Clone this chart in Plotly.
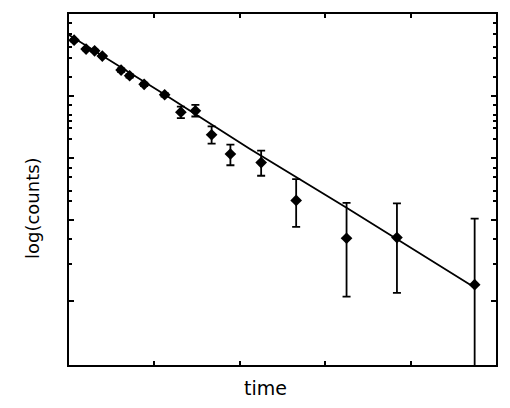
import plotly.graph_objects as go

# Decay measurement: counts vs time (arbitrary units), log y axis
time = [0.06, 0.20, 0.30, 0.39, 0.61, 0.71, 0.88, 1.12, 1.31, 1.48,
        1.67, 1.89, 2.25, 2.66, 3.25, 3.84, 4.75]
counts = [78400, 56300, 52900, 43500, 25900, 21000, 15300, 10400, 5450, 5730,
          2365, 1159, 844, 208, 51.3, 52.5, 9.2]
err_plus = [3100, 2300, 2100, 1700, 1600, 1300, 950, 650, 1265, 1420,
            849, 479, 469, 248, 139, 134, 96.5]
err_minus = [3100, 2300, 2100, 1700, 1600, 1300, 950, 650, 1085, 1085,
             667, 395, 326, 130, 45.4, 45.7, 9.1]

# Fitted decay curve
fit_time = [0.0, 1.12, 2.11, 3.25, 4.75]
fit_counts = [95300, 10500, 1420, 158, 8.3]

# Tick marks (no labels on the axes)
y_major = [5, 100, 1000, 10000]
y_minor = [20, 50, 200, 300, 500, 700, 2000, 3000, 4000, 5000, 7000,
           20000, 40000, 60000, 100000, 150000]
x_ticks = [1, 2, 3, 4]

fig = go.Figure()

fig.add_trace(go.Scatter(
    x=fit_time, y=fit_counts, mode="lines",
    line=dict(color="black", width=1.8),
    showlegend=False
))

fig.add_trace(go.Scatter(
    x=time, y=counts, mode="markers",
    marker=dict(symbol="diamond", size=9, color="black"),
    error_y=dict(type="data", symmetric=False, array=err_plus, arrayminus=err_minus,
                 color="black", thickness=1.8, width=4),
    showlegend=False
))

fig.update_xaxes(
    range=[0, 5], showgrid=False, zeroline=False,
    showline=True, linecolor="black", linewidth=2, mirror="ticks",
    tickmode="array", tickvals=x_ticks, ticks="inside", ticklen=4, tickwidth=1.5,
    tickcolor="black", showticklabels=False
)
fig.update_yaxes(
    type="log", range=[-0.328, 5.315], showgrid=False, zeroline=False,
    showline=True, linecolor="black", linewidth=2, mirror="ticks",
    tickmode="array", tickvals=y_major, ticks="inside", ticklen=5, tickwidth=1.5,
    tickcolor="black", showticklabels=False,
    minor=dict(tickmode="array", tickvals=y_minor, ticks="inside", ticklen=3,
               tickwidth=1.5, tickcolor="black", showgrid=False)
)

# axis titles placed by hand (they sit off-centre in the original)
fig.add_annotation(text="time", xref="paper", yref="paper", x=0.46, y=-0.065,
                   xanchor="center", yanchor="middle",
                   showarrow=False, font=dict(size=19, color="black"))
fig.add_annotation(text="log(counts)", xref="paper", yref="paper", x=-0.086, y=0.448,
                   xanchor="center", yanchor="middle",
                   showarrow=False, textangle=-90, font=dict(size=18, color="black"))

# page has an 8px body margin, so the figure is kept a bit smaller than the window
fig.update_layout(
    width=494, height=392,
    margin=dict(l=61, r=5, t=4, b=35),
    plot_bgcolor="white", paper_bgcolor="white",
    font=dict(family="DejaVu Sans", color="black")
)

fig.write_html("out.html")
